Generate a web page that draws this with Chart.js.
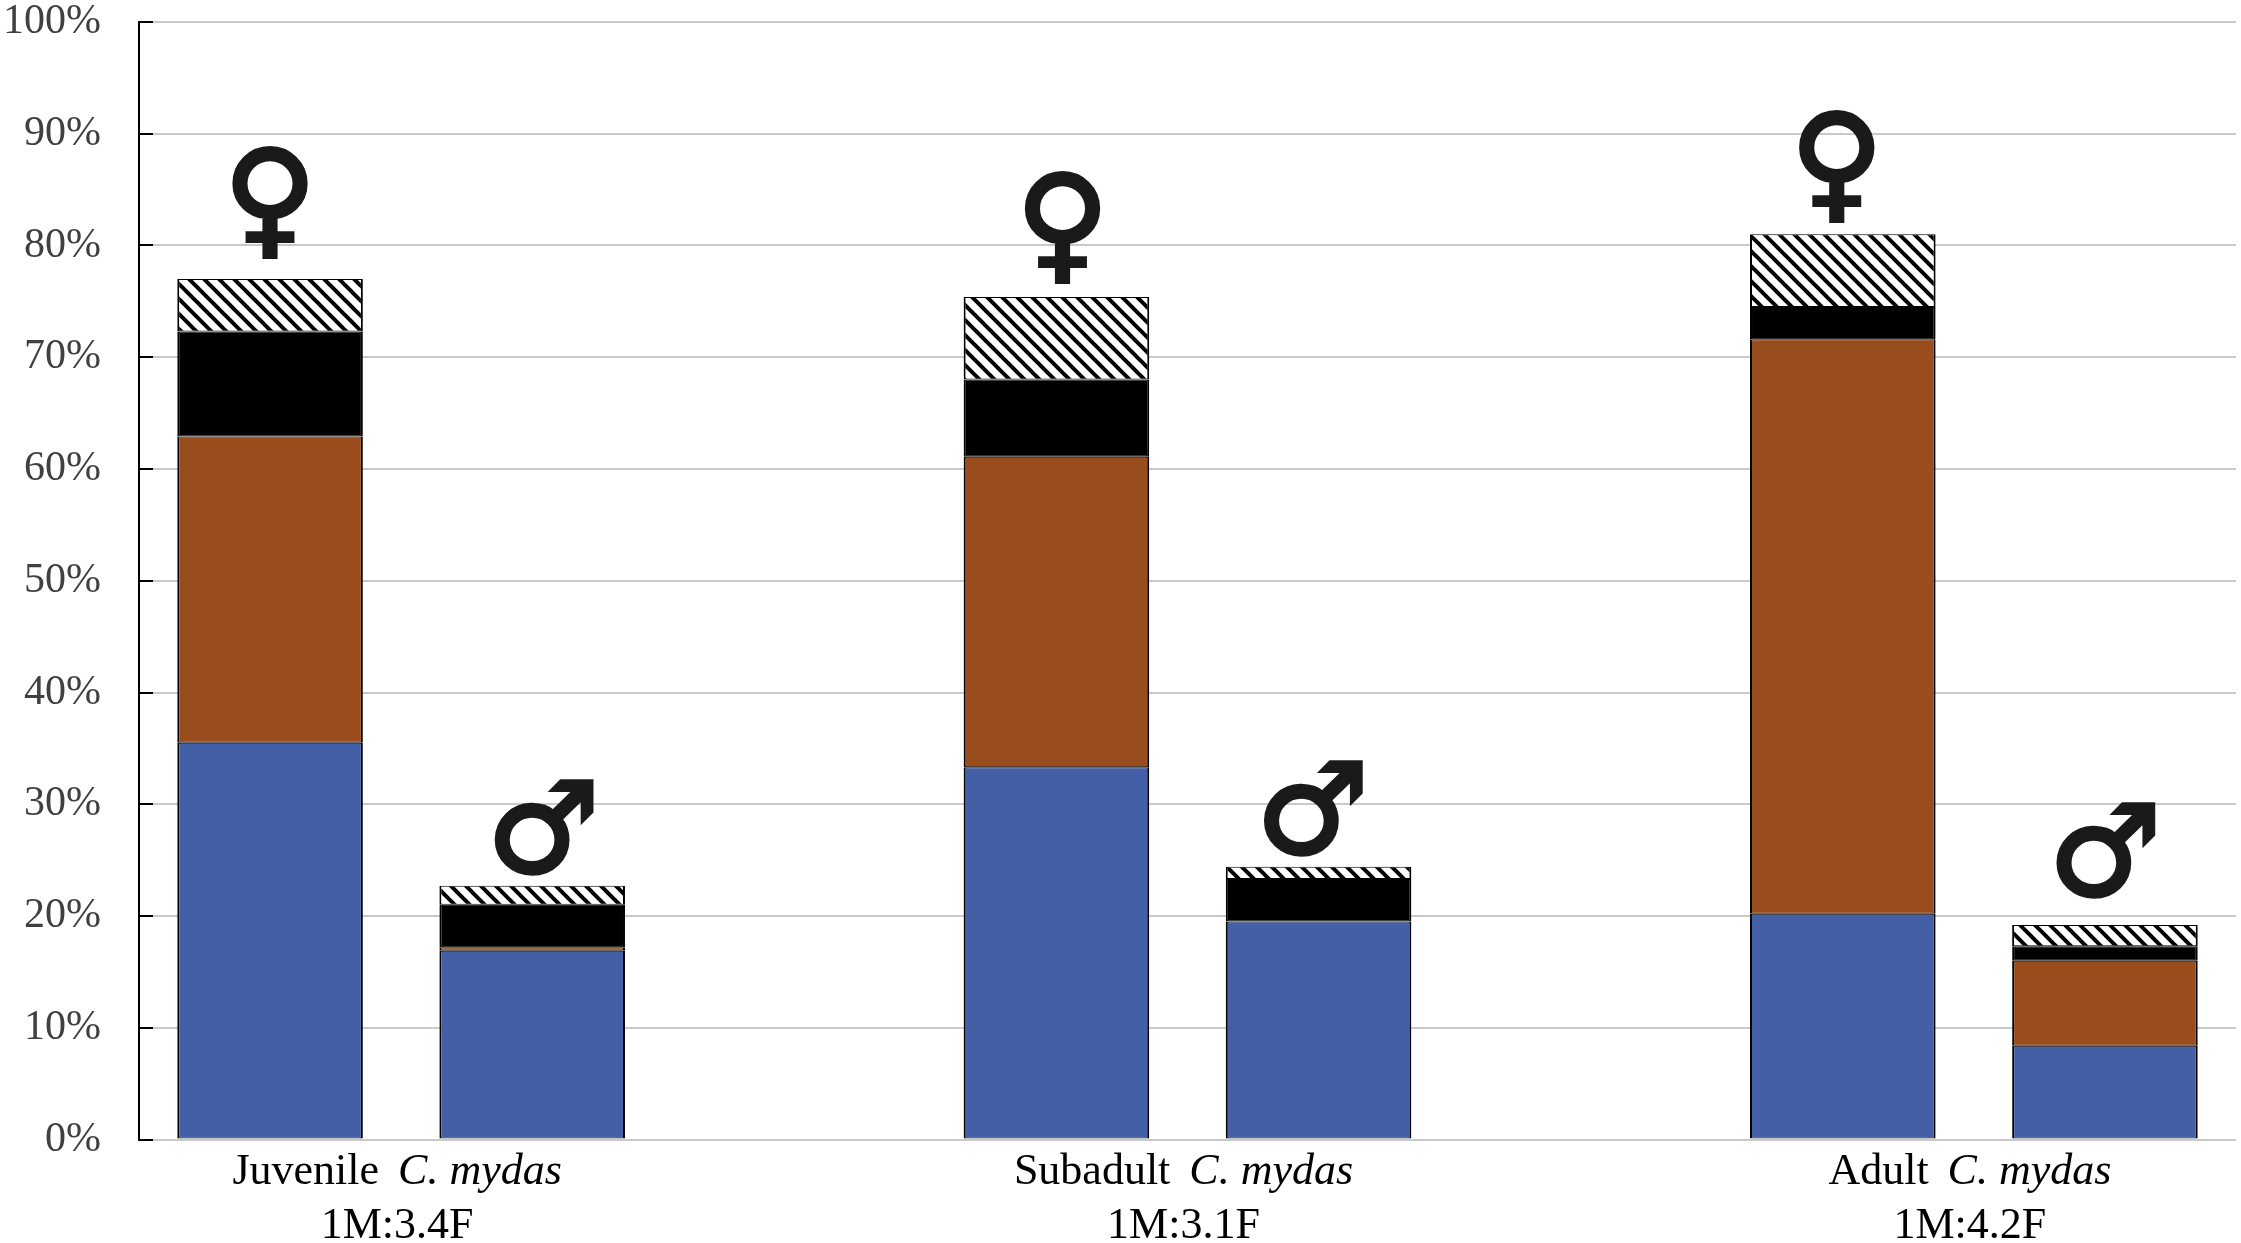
<!DOCTYPE html>
<html>
<head>
<meta charset="utf-8">
<style>html,body{margin:0;padding:0;background:#fff}canvas{display:block}</style>
<script src="https://cdn.jsdelivr.net/npm/chart.js@4"></script>
</head>
<body>
<canvas id="c" width="2241" height="1243"></canvas>
<script>
// Category slots: F, M, gap, F, M, gap, F, M
const categories = ['Juvenile F','Juvenile M','','Subadult F','Subadult M','','Adult F','Adult M'];
const seriesBlue  = [35.5, 16.9, null, 33.3, 19.5, null, 20.2, 8.4];
const seriesBrown = [27.4, 0.3,  null, 27.8, 0,    null, 51.4, 7.6];
const seriesBlack = [9.4,  3.8,  null, 6.9,  3.8,  null, 2.9,  1.3];
const seriesHatch = [4.7,  1.7,  null, 7.4,  1.1,  null, 6.5,  1.9];
const sexSymbols  = ['♀','♂',null,'♀','♂',null,'♀','♂'];
const groupNames  = ['Juvenile','Subadult','Adult'];
const speciesName = 'C. mydas';
const ratioLabels = ['1M:3.4F','1M:3.1F','1M:4.2F'];
const yTicks = [0,10,20,30,40,50,60,70,80,90,100];

// Hand placement of each symbol relative to its bar: [dx, gap above bar]
const symbolNudge = [[0,38],[11,14],null,[6,31],[-6,14],null,[-6,29],[0,30]];

const SERIF = '"Liberation Serif", serif';

function hatchPattern(){
  const s = 15, t = document.createElement('canvas');
  t.width = t.height = s;
  const g = t.getContext('2d');
  g.fillStyle = '#fff'; g.fillRect(0,0,s,s);
  g.strokeStyle = '#000'; g.lineWidth = 4;
  for (const o of [-s,0,s]) {
    g.beginPath(); g.moveTo(o-2,-2); g.lineTo(o+s+2,s+2); g.stroke();
  }
  return g.createPattern(t,'repeat');
}

const overlay = {
  id:'overlay',
  afterDatasetsDraw(chart){
    const {ctx, scales:{x,y}} = chart;
    ctx.save();
    ctx.strokeStyle = '#000'; ctx.lineWidth = 2;
    yTicks.forEach(v=>{
      const py = Math.round(y.getPixelForValue(v));
      ctx.beginPath(); ctx.moveTo(x.left, py); ctx.lineTo(x.left+14, py); ctx.stroke();
    });
    ctx.textAlign='center'; ctx.textBaseline='alphabetic';
    ctx.fillStyle='#1a1a1a'; ctx.strokeStyle='#1a1a1a';
    sexSymbols.forEach((sym,i)=>{
      if(!sym) return;
      const total = seriesBlue[i]+seriesBrown[i]+seriesBlack[i]+seriesHatch[i];
      const top = y.getPixelForValue(total), cx = x.getPixelForValue(i);
      const [dx,gap] = symbolNudge[i];
      ctx.font = (sym==='♂'?'126px':'127px')+' "DejaVu Sans"';
      ctx.lineWidth = 4;
      ctx.fillText(sym, cx+dx, top-gap);
      ctx.strokeText(sym, cx+dx, top-gap);
    });
    ctx.fillStyle='#000'; ctx.textAlign='left';
    groupNames.forEach((name,k)=>{
      const cx = (x.getPixelForValue(k*3)+x.getPixelForValue(k*3+1))/2 - 4;
      const rm = '44px '+SERIF, it = 'italic 44px '+SERIF;
      const gap = 19;
      ctx.font = rm; const w1 = ctx.measureText(name).width + gap;
      ctx.font = it; const w2 = ctx.measureText(speciesName).width;
      const sx = cx-(w1+w2)/2;
      ctx.font = rm; ctx.fillText(name, sx, 1184);
      ctx.font = it; ctx.fillText(speciesName, sx+w1, 1184);
      ctx.font = rm; ctx.textAlign='center';
      ctx.fillText(ratioLabels[k], cx, 1238);
      ctx.textAlign='left';
    });
    ctx.restore();
  }
};

const bar = (label,data,color)=>({label,data,backgroundColor:color,borderColor:'#000',
  borderWidth:{left:2,right:2,top:1,bottom:1},borderSkipped:false});

new Chart(document.getElementById('c'),{
  type:'bar',
  data:{labels:categories,datasets:[
    bar('Blue',seriesBlue,'#4360a6'),
    bar('Brown',seriesBrown,'#9a4d1c'),
    bar('Black',seriesBlack,'#000'),
    bar('Hatched',seriesHatch,hatchPattern())
  ]},
  options:{
    responsive:false,animation:false,devicePixelRatio:1,
    layout:{padding:{top:22,right:5,left:0,bottom:0}},
    datasets:{bar:{barPercentage:0.708,categoryPercentage:1}},
    plugins:{legend:{display:false},tooltip:{enabled:false},title:{display:false}},
    scales:{
      x:{stacked:true,grid:{display:false},border:{display:false},ticks:{display:false},
         afterFit(s){s.height=103.5;s.paddingLeft=0;s.paddingRight=0;}},
      y:{stacked:true,min:0,max:100,
         afterFit(s){s.width=139;s.paddingTop=0;s.paddingBottom=0;},
         grid:{color:'#c9c9c9',lineWidth:2,drawTicks:false},
         border:{color:'#000',width:2},
         ticks:{stepSize:10,padding:38,color:'#404040',autoSkip:false,
                font:{family:'Liberation Serif',size:42},
                callback:v=>v+'%'}}
    }
  },
  plugins:[overlay]
});
</script>
</body>
</html>
